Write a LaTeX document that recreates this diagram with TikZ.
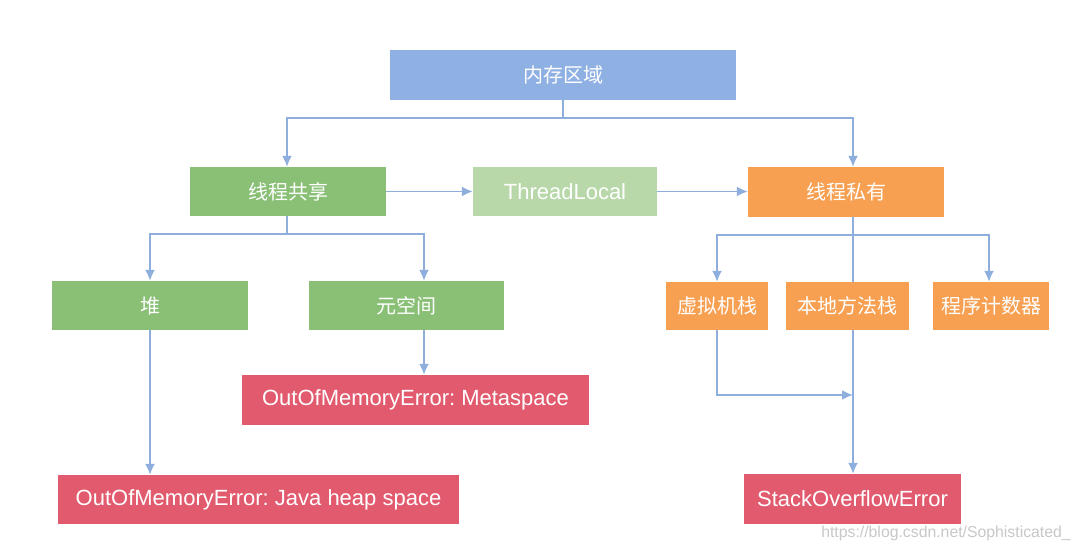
\documentclass[tikz,border=0pt]{standalone}
\usepackage{fontspec}
\setmainfont{Liberation Sans}
\newfontfamily\cjkfont{Noto Sans CJK SC}
\usetikzlibrary{arrows.meta,calc}
\frenchspacing
\definecolor{cblue}{RGB}{143,176,226}
\definecolor{cgreen}{RGB}{137,192,118}
\definecolor{clight}{RGB}{184,216,170}
\definecolor{corange}{RGB}{247,160,82}
\definecolor{cred}{RGB}{226,90,110}
\definecolor{cline}{RGB}{142,174,222}
\definecolor{cwm}{RGB}{200,200,200}
\begin{document}
\begin{tikzpicture}[x=1pt,y=-1pt,
  box/.style={draw=none,inner sep=0pt,text=white,anchor=center,minimum height=49pt},
  zh/.style={box,font=\cjkfont\fontsize{20}{24}\selectfont},
  en/.style={box,font=\fontsize{22}{26}\selectfont},
  wire/.style={draw=cline,line width=1.8pt},
  arr/.style={wire,-{Latex[length=11pt,width=10pt]}}]
\useasboundingbox (0,0) rectangle (1080,551);
\fill[white] (0,0) rectangle (1080,551);

% nodes
\node[zh,fill=cblue,minimum width=346pt,minimum height=50pt] (mem) at (563,75) {内存区域};
\node[zh,fill=cgreen,minimum width=196pt] (shared) at (288,191.5) {线程共享};
\node[en,fill=clight,minimum width=184pt] (tl) at (565,191.5) {ThreadLocal};
\node[zh,fill=corange,minimum width=196pt,minimum height=50pt] (private) at (846,192) {线程私有};
\node[zh,fill=cgreen,minimum width=196pt] (heap) at (150,305.5) {堆};
\node[zh,fill=cgreen,minimum width=195pt] (meta) at (406.5,305.5) {元空间};
\node[zh,fill=corange,minimum width=102pt,minimum height=48pt] (vms) at (717,306) {虚拟机栈};
\node[zh,fill=corange,minimum width=123pt,minimum height=48pt] (nms) at (847.5,306) {本地方法栈};
\node[zh,fill=corange,minimum width=116pt,minimum height=48pt] (pc) at (991,306) {程序计数器};
\node[en,fill=cred,minimum width=347pt,minimum height=50pt] (oommeta) at (415.5,400) {OutOfMemoryError: Metaspace};
\node[en,fill=cred,minimum width=401pt] (oomheap) at (258.5,499.5) {OutOfMemoryError: Java heap space};
\node[en,fill=cred,minimum width=217pt,minimum height=50pt] (soe) at (852.5,499) {StackOverflowError};
\node[text=cwm,inner sep=0pt,font=\fontsize{15.8}{18}\selectfont] (wm) at (946,533) {https://blog.csdn.net/Sophisticated\_};

% helper coordinates
\coordinate (j1) at (563,118);
\coordinate (j2) at (287,234);
\coordinate (j3) at (853,235);
\coordinate (mx) at (424,0);
\coordinate (px) at (853,0);
\coordinate (cx) at (989,0);
\coordinate (j4) at (853,395);

% connectors
\draw[wire] (mem.south) -- (j1);
\draw[arr] (j1) -| (shared.north -| j2);
\draw[arr] (j1) -| (private.north -| px);
\draw[arr] (shared.east) -- (tl.west);
\draw[arr] (tl.east) -- (private.west |- tl.east);

\draw[wire] (shared.south -| j2) -- (j2);
\draw[arr] (j2) -| (heap.north);
\draw[arr] (j2) -| (meta.north -| mx);
\draw[arr] (heap.south) -- (oomheap.north -| heap.south);
\draw[arr] (meta.south -| mx) -- (oommeta.north -| mx);

\draw[wire] (private.south -| px) -- (nms.north -| px);
\draw[arr] (j3) -| (vms.north);
\draw[arr] (j3) -| (pc.north -| cx);
\draw[arr] (vms.south) |- (j4);
\draw[arr] (nms.south -| px) -- (soe.north -| px);
\end{tikzpicture}
\end{document}
